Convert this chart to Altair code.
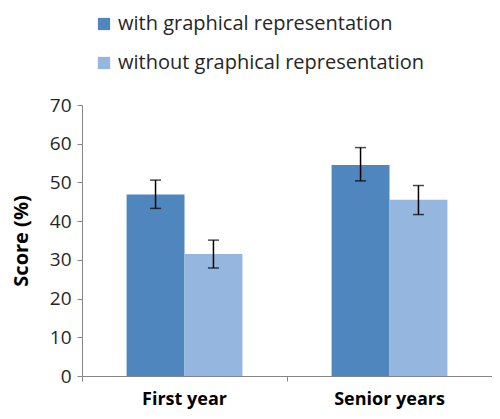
import altair as alt
import pandas as pd

groups = ["First year", "First year", "Senior years", "Senior years"]
series = ["with graphical representation", "without graphical representation",
          "with graphical representation", "without graphical representation"]
scores = [46.9, 31.5, 54.5, 45.5]
err_lo = [43.3, 27.9, 50.4, 41.7]
err_hi = [50.6, 35.1, 59.0, 49.2]
y_ticks = [0, 10, 20, 30, 40, 50, 60, 70]

series_order = ["with graphical representation", "without graphical representation"]
colors = ["#4F86BD", "#95B6DE"]

df = pd.DataFrame({"group": groups, "series": series, "score": scores,
                   "lo": err_lo, "hi": err_hi})

FONT = "Open Sans"

x = alt.X("group:N", title=None, sort=["First year", "Senior years"],
          scale=alt.Scale(paddingInner=0, paddingOuter=0),
          axis=alt.Axis(bandPosition=0, labelAngle=0, labelFont=FONT, labelFontSize=18,
                        labelFontWeight="bold", labelColor="#000000", labelPadding=9,
                        labelOverlap=False,
                        tickSize=5, tickColor="#868686", domainColor="#868686"))
xo = alt.XOffset("series:N", sort=series_order,
                 scale=alt.Scale(paddingInner=0, paddingOuter=0.77))

yscale = alt.Scale(domain=[0, 70], nice=False)
yaxis = alt.Axis(values=y_ticks, grid=False, labelOverlap=False,
                 labelFont=FONT, labelFontSize=19, labelColor="#262626",
                 labelPadding=6, tickSize=5, tickColor="#868686",
                 domainColor="#868686", titleFont=FONT, titleFontSize=20,
                 titleFontWeight="bold", titleColor="#000000", titlePadding=18)

base = alt.Chart(df)

bars = base.mark_bar(stroke=None).encode(
    x=x,
    xOffset=xo,
    y=alt.Y("score:Q", title="Score (%)", scale=yscale, axis=yaxis),
    color=alt.Color("series:N", sort=series_order,
                    scale=alt.Scale(domain=series_order, range=colors),
                    legend=alt.Legend(title=None, orient="none", legendX=12, legendY=-91,
                                      direction="vertical", symbolType="square",
                                      symbolSize=150, symbolStrokeWidth=0,
                                      labelFont=FONT, labelFontSize=20,
                                      labelColor="#262626", rowPadding=19,
                                      labelOffset=4, labelLimit=400)),
)

rules = base.mark_rule(color="#000000", strokeWidth=1.5).encode(
    x=x, xOffset=xo,
    y=alt.Y("lo:Q", title="Score (%)", scale=yscale, axis=yaxis), y2="hi:Q")
cap_lo = base.mark_tick(color="#000000", thickness=1.5, size=11).encode(
    x=x, xOffset=xo, y=alt.Y("lo:Q", title="Score (%)", scale=yscale, axis=yaxis))
cap_hi = base.mark_tick(color="#000000", thickness=1.5, size=11).encode(
    x=x, xOffset=xo, y=alt.Y("hi:Q", title="Score (%)", scale=yscale, axis=yaxis))

chart = alt.layer(bars, rules, cap_lo, cap_hi).properties(
    width=410, height=271,
    autosize=alt.AutoSizeParams(type="none"),
    padding={"left": 74, "top": 97, "right": 0, "bottom": 35},
).configure_view(stroke=None)

chart.save("out.html", embed_options={"renderer": "svg", "actions": False})
